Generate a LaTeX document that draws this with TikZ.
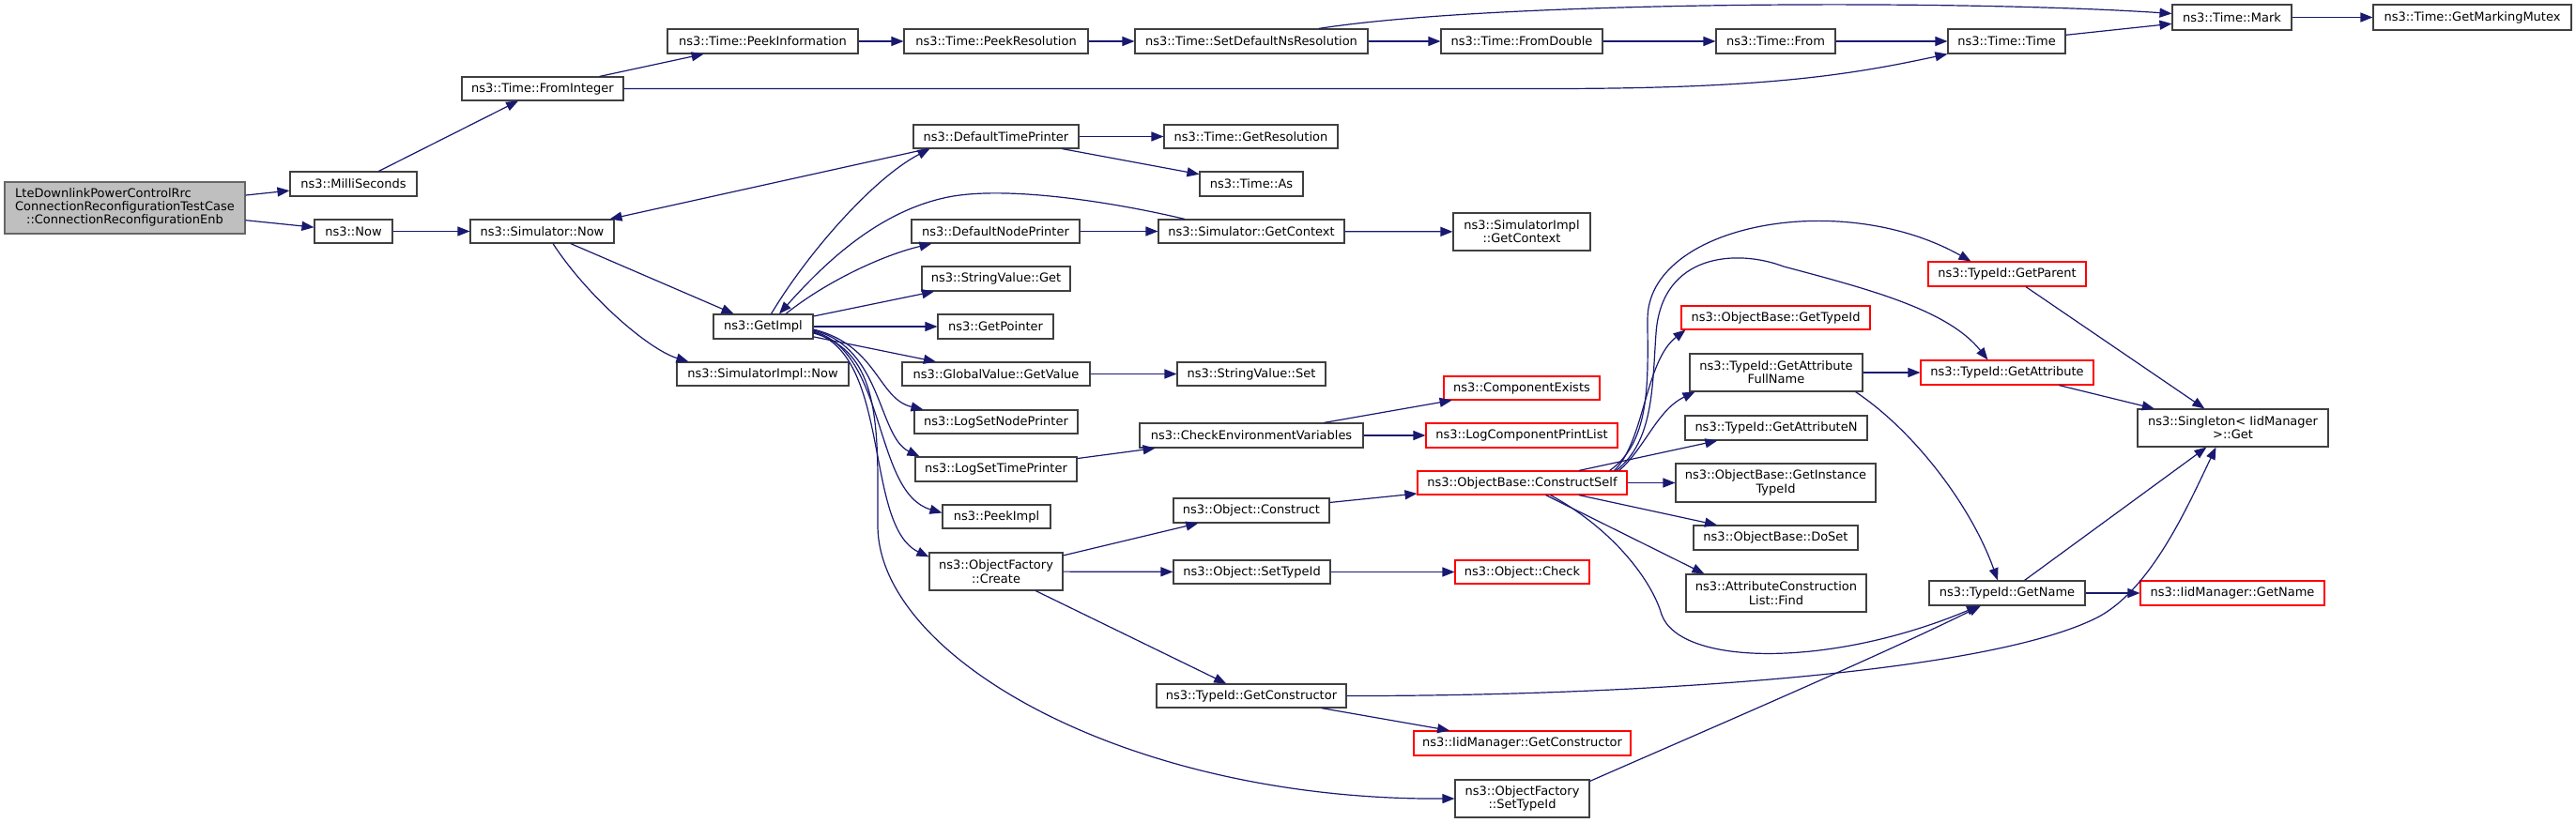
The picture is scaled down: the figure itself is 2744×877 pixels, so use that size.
\documentclass[tikz,border=0pt]{standalone}
\usepackage{fontspec}
\setmainfont{DejaVu Sans}
\usetikzlibrary{arrows.meta,calc}
\definecolor{edgec}{HTML}{191970}
\definecolor{boxc}{HTML}{404040}
\definecolor{redc}{HTML}{FF0000}
\definecolor{rootfill}{HTML}{BFBFBF}
\newcommand{\fsz}{\fontsize{6.5pt}{7.15pt}\selectfont}
\tikzset{
  box/.style={draw=boxc, line width=0.55pt, inner sep=0pt, font=\fsz, align=center, fill=white},
  redbox/.style={draw=redc},
  rootbox/.style={fill=rootfill, draw=boxc!80},
  edge/.style={draw=edgec, line width=0.6pt, -{Triangle[length=6.5pt,width=5pt]}}
}
\newcommand{\nd}[7][]{\node[box,#1,minimum width={(#4-#2)*0.5pt},minimum height={(#5-#3)*0.5pt}] (#6) at ({(#2+#4)/2},{(#3+#5)/2}) {#7};}
\begin{document}
\begin{tikzpicture}[x=0.5pt,y=-0.5pt]
\useasboundingbox (0,0) rectangle (2744,877);
% nodes
\nd[rootbox]{5}{194}{261}{249}{root}{\begin{tabular}{@{}l@{}}LteDownlinkPowerControlRrc\\ConnectionReconfigurationTestCase\\\multicolumn{1}{@{}c@{}}{::ConnectionReconfigurationEnb}\end{tabular}}
\nd{309}{183}{444}{209}{milli}{ns3::MilliSeconds}
\nd{335}{234}{418}{259}{now}{ns3::Now}
\nd{492}{82}{664}{107}{fromint}{ns3::Time::FromInteger}
\nd{711}{31}{914}{57}{peekinfo}{ns3::Time::PeekInformation}
\nd{963}{31}{1159}{57}{peekres}{ns3::Time::PeekResolution}
\nd{1209}{31}{1457}{57}{sdnr}{ns3::Time::SetDefaultNsResolution}
\nd{1535}{31}{1707}{57}{fromdbl}{ns3::Time::FromDouble}
\nd{1828}{31}{1955}{57}{from}{ns3::Time::From}
\nd{2075}{31}{2200}{57}{ttime}{ns3::Time::Time}
\nd{2314}{5}{2441}{32}{mark}{ns3::Time::Mark}
\nd{2528}{5}{2739}{32}{gmm}{ns3::Time::GetMarkingMutex}
\nd{501}{234}{654}{259}{simnow}{ns3::Simulator::Now}
\nd{760}{335}{866}{361}{getimpl}{ns3::GetImpl}
\nd{721}{386}{904}{411}{simimplnow}{ns3::SimulatorImpl::Now}
\nd{973}{133}{1149}{158}{dtp}{ns3::DefaultTimePrinter}
\nd{1240}{133}{1425}{158}{getres}{ns3::Time::GetResolution}
\nd{1278}{183}{1388}{209}{tas}{ns3::Time::As}
\nd{971}{234}{1150}{259}{dnp}{ns3::DefaultNodePrinter}
\nd{1234}{234}{1432}{259}{getctx}{ns3::Simulator::GetContext}
\nd{1548}{227}{1694}{267}{sigc}{ns3::SimulatorImpl\\::GetContext}
\nd{982}{284}{1140}{310}{svget}{ns3::StringValue::Get}
\nd{999}{335}{1122}{361}{getptr}{ns3::GetPointer}
\nd{961}{386}{1161}{411}{gvgv}{ns3::GlobalValue::GetValue}
\nd{1254}{386}{1412}{411}{svset}{ns3::StringValue::Set}
\nd{974}{437}{1148}{462}{lsnp}{ns3::LogSetNodePrinter}
\nd{975}{487}{1147}{513}{lstp}{ns3::LogSetTimePrinter}
\nd{1214}{451}{1452}{477}{cev}{ns3::CheckEnvironmentVariables}
\nd[redbox]{1538}{401}{1704}{426}{compex}{ns3::ComponentExists}
\nd[redbox]{1519}{451}{1723}{477}{lcpl}{ns3::LogComponentPrintList}
\nd{1004}{538}{1119}{563}{peekimpl}{ns3::PeekImpl}
\nd{990}{589}{1132}{629}{ofcreate}{ns3::ObjectFactory\\::Create}
\nd{1250}{531}{1416}{557}{oconstruct}{ns3::Object::Construct}
\nd{1250}{597}{1417}{622}{osettid}{ns3::Object::SetTypeId}
\nd[redbox]{1550}{597}{1693}{622}{ocheck}{ns3::Object::Check}
\nd{1232}{729}{1434}{754}{tgc}{ns3::TypeId::GetConstructor}
\nd[redbox]{1506}{779}{1737}{805}{igc}{ns3::IidManager::GetConstructor}
\nd{1550}{831}{1693}{871}{ofsettid}{ns3::ObjectFactory\\::SetTypeId}
\nd[redbox]{1510}{502}{1733}{527}{cself}{ns3::ObjectBase::ConstructSelf}
\nd[redbox]{1791}{326}{1992}{351}{obgtid}{ns3::ObjectBase::GetTypeId}
\nd{1800}{377}{1984}{417}{gafn}{ns3::TypeId::GetAttribute\\FullName}
\nd{1795}{443}{1989}{469}{gan}{ns3::TypeId::GetAttributeN}
\nd{1785}{494}{1998}{535}{gitid}{ns3::ObjectBase::GetInstance\\TypeId}
\nd{1804}{560}{1979}{586}{doset}{ns3::ObjectBase::DoSet}
\nd{1796}{612}{1988}{652}{aclf}{ns3::AttributeConstruction\\List::Find}
\nd[redbox]{2054}{279}{2222}{305}{gparent}{ns3::TypeId::GetParent}
\nd[redbox]{2046}{384}{2230}{410}{gattr}{ns3::TypeId::GetAttribute}
\nd{2277}{436}{2480}{476}{single}{ns3::Singleton< IidManager\\>::Get}
\nd{2055}{619}{2221}{645}{gname}{ns3::TypeId::GetName}
\nd[redbox]{2280}{619}{2476}{645}{iigname}{ns3::IidManager::GetName}
% straight edges
\draw[edge] (root) -- (milli);
\draw[edge] (root) -- (now);
\draw[edge] (milli) -- (fromint);
\draw[edge] (fromint) -- (peekinfo);
\draw[edge] (peekinfo) -- (peekres);
\draw[edge] (peekres) -- (sdnr);
\draw[edge] (sdnr) -- (fromdbl);
\draw[edge] (fromdbl) -- (from);
\draw[edge] (from) -- (ttime);
\draw[edge] (ttime) -- (mark);
\draw[edge] (mark) -- (gmm);
\draw[edge] (now) -- (simnow);
\draw[edge] (simnow) -- (getimpl);
\draw[edge] ($(dtp.south west)+(16,0)$) -- ($(simnow.north east)+(-5,0)$);
\draw[edge] (dnp) -- (getctx);
\draw[edge] (getctx) -- (sigc);
\draw[edge] (dtp) -- (getres);
\draw[edge] (dtp) -- (tas);
\draw[edge] (getimpl) -- (svget);
\draw[edge] (getimpl) -- (getptr);
\draw[edge] (getimpl) -- (gvgv);
\draw[edge] (gvgv) -- (svset);
\draw[edge] (lstp) -- (cev);
\draw[edge] (cev) -- (compex);
\draw[edge] (cev) -- (lcpl);
\draw[edge] (ofcreate) -- (oconstruct);
\draw[edge] (ofcreate) -- (osettid);
\draw[edge] (ofcreate) -- (tgc);
\draw[edge] (oconstruct) -- (cself);
\draw[edge] (osettid) -- (ocheck);
\draw[edge] (tgc) -- (igc);
\draw[edge] (cself) -- (gan);
\draw[edge] (cself) -- (gitid);
\draw[edge] (cself) -- (doset);
\draw[edge] ($(cself.south)+(25,0)$) -- ($(aclf.north west)+(20,0)$);
\draw[edge] (gafn) -- (gattr);
\draw[edge] (gparent) -- (single);
\draw[edge] (gattr) -- (single);
\draw[edge] (gname) -- (single);
\draw[edge] (gname) -- (iigname);
% curved edges
\draw[edge] (fromint.east) -- (1650,94.5) .. controls (1880,94.5) and (1970,80) .. (ttime.south west);
\draw[edge] ($(sdnr.north east)+(-53,0)$) .. controls (1600,0) and (2100,0) .. ($(mark.west)+(0,-4)$);
\draw[edge] ($(simnow.south)+(11.5,0)$) .. controls (625,315) and (690,372) .. ($(simimplnow.north west)+(13,0)$);
\draw[edge] ($(getimpl.north)+(8.5,0)$) .. controls (860,270) and (930,190) .. ($(dtp.south west)+(18,0)$);
\draw[edge] ($(getctx.north)+(-71,0)$) .. controls (1180,214) and (1070,198) .. (1010,210) .. controls (930,226) and (870,290) .. ($(getimpl.north)+(17,0)$);
\draw[edge] ($(getimpl.north)+(24,0)$) .. controls (880,300) and (940,272) .. ($(dnp.south west)+(22,0)$);
\draw[edge] ($(getimpl.east)+(0,3)$) .. controls (935,368) and (935,425) .. ($(lsnp.north west)+(10,0)$);
\draw[edge] ($(getimpl.east)+(0,4)$) .. controls (940,370) and (935,465) .. ($(lstp.north west)+(5,0)$);
\draw[edge] ($(getimpl.east)+(0,5)$) .. controls (945,375) and (930,525) .. ($(peekimpl.west)+(0,-4)$);
\draw[edge] ($(getimpl.east)+(0,6)$) .. controls (950,380) and (920,560) .. ($(ofcreate.north west)+(0,5)$);
\draw[edge] ($(getimpl.east)+(0,7)$) .. controls (940,375) and (935,460) .. (935,560) .. controls (935,700) and (1200,853) .. (ofsettid.west);
\draw[edge] (tgc.east) .. controls (1700,742) and (2100,722) .. (2230,660) .. controls (2290,632) and (2330,540) .. ($(single.south)+(-18,0)$);
\draw[edge] ($(ofsettid.north east)+(0,2)$) .. controls (1790,790) and (2000,700) .. ($(gname.south)+(-28,0)$);
\draw[edge] ($(cself.north east)+(-14,0)$) .. controls (1752,470) and (1752,385) .. ($(obgtid.south west)+(5,0)$);
\draw[edge] ($(cself.north east)+(-9,0)$) .. controls (1752,478) and (1765,437) .. ($(gafn.south west)+(6,0)$);
\draw[edge] ($(cself.south)+(30,0)$) .. controls (1720,565) and (1760,620) .. (1770,655) .. controls (1790,710) and (1950,712) .. ($(gname.south)+(-30,0)$);
\draw[edge] ($(cself.north east)+(-19,0)$) .. controls (1760,470) and (1755,400) .. (1755,340) .. controls (1755,240) and (1960,200) .. ($(gparent.north west)+(46,0)$);
\draw[edge] ($(cself.north east)+(-12,0)$) .. controls (1762,470) and (1760,410) .. (1764,355) .. controls (1770,270) and (1850,265) .. (1900,284) .. controls (1990,308) and (2075,330) .. ($(gattr.north west)+(72,0)$);
\draw[edge] ($(gafn.south east)+(-8,0)$) .. controls (2040,460) and (2100,540) .. ($(gname.north)+(-10,0)$);
\end{tikzpicture}
\end{document}
